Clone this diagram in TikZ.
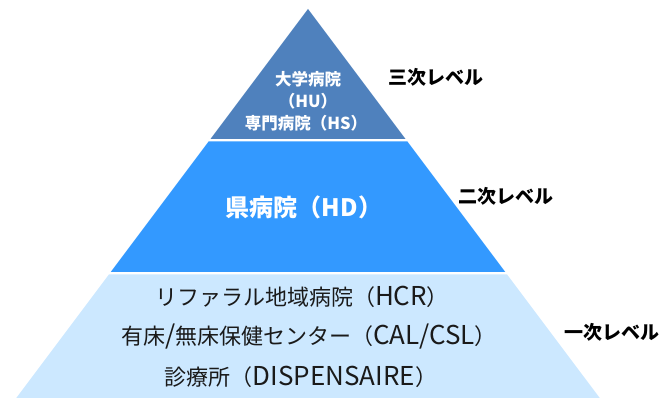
\documentclass[tikz,border=0pt]{standalone}
\usepackage{fontspec}
\setmainfont{Noto Sans CJK JP}
\newfontfamily\jp{Noto Sans CJK JP}
\newfontfamily\jpL[Scale=1.18]{Noto Sans CJK JP}
\definecolor{topblue}{HTML}{4F81BD}
\definecolor{midblue}{HTML}{3399FF}
\definecolor{baseblue}{HTML}{CCE8FF}
\definecolor{basetext}{HTML}{1A1A1A}
\tikzset{
  lbl/.style={inner sep=0pt, anchor=center},
  toptext/.style={lbl, text height=14.5pt, text depth=2pt, text=white, font=\jp\bfseries\fontsize{16.5}{20}\selectfont},
  midtext/.style={lbl, text height=21.1pt, text depth=2.9pt, text=white, font=\jp\bfseries\fontsize{24}{28}\selectfont},
  basetxt/.style={lbl, text height=19.4pt, text depth=2.6pt, text=basetext, font=\jp\fontsize{22}{26}\selectfont},
  levellbl/.style={lbl, text height=16.7pt, text depth=2.3pt, text=black, font=\jp\bfseries\fontsize{19}{23}\selectfont},
}
\begin{document}
\begin{tikzpicture}[x=1pt,y=-1pt]
\useasboundingbox (0,0) rectangle (665,398);
% bands
\fill[topblue]  (308,9) -- (405.5,139) -- (210.5,139) -- cycle;
\fill[midblue]  (208.6,141.5) -- (407.4,141.5) -- (505.25,272) -- (110.75,272) -- cycle;
\fill[baseblue] (108.9,274.5) -- (507.1,274.5) -- (599.75,398) -- (16.25,398) -- cycle;
% top texts
\node[toptext] (t1) at (308,79) {大学病院};
\node[toptext] (t2) at (308,101) {（HU）};
\node[toptext] (t3) at (306,123) {専門病院（HS）};
% middle
\node[midtext] (m1) at (304,207) {県病院（HD）};
% base
\node[basetxt] (b1) at (302,297) {リファラル地域病院（{\jpL HCR}）};
\node[basetxt] (b2) at (309,336) {有床{\jpL /}無床保健センター（{\jpL CAL/CSL}）};
\node[basetxt] (b3) at (301,377) {診療所（{\jpL DISPENSAIRE}）};
% level labels
\node[levellbl] (l3) at (436,77) {三次レベル};
\node[levellbl] (l2) at (506,196) {二次レベル};
\node[levellbl] (l1) at (612,332) {一次レベル};
\end{tikzpicture}
\end{document}
